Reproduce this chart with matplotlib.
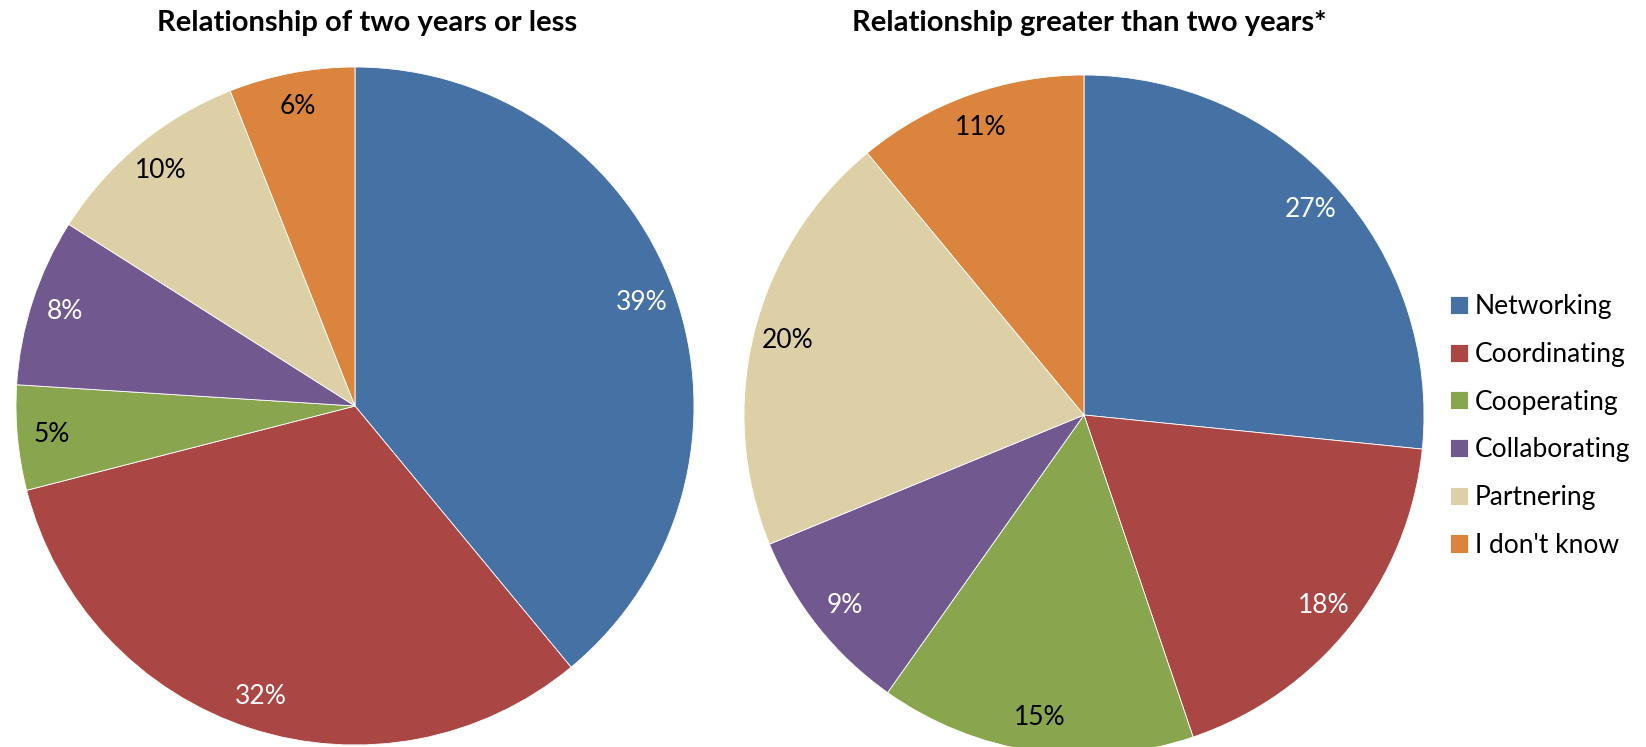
import numpy as np
import matplotlib
matplotlib.use("Agg")
import matplotlib.pyplot as plt

plt.rcParams['font.family'] = ['Lato', 'DejaVu Sans']

categories = ['Networking', 'Coordinating', 'Cooperating', 'Collaborating', 'Partnering', "I don't know"]
short_values = [39, 32, 5, 8, 10, 6]
long_values = [26.6, 18.2, 15.0, 9.0, 20.2, 11.0]
titles = ['Relationship of two years or less', 'Relationship greater than two years*']

colors = ['#4671A5', '#AA4644', '#89A54E', '#71588F', '#DDD0A7', '#DB843D']
text_colors = ['white', 'white', 'black', 'white', 'black', 'black']


def draw_pie(ax, values):
    wedges, _ = ax.pie(values, colors=colors, startangle=90, counterclock=False,
                       radius=1.0, wedgeprops=dict(linewidth=0.6, edgecolor='white'))
    for w, v, tc in zip(wedges, values, text_colors):
        mid = np.deg2rad((w.theta1 + w.theta2) / 2)
        ax.text(0.9 * np.cos(mid), 0.9 * np.sin(mid), f'{v:.0f}%', ha='center', va='center',
                fontsize=19, color=tc)
    ax.set_xlim(-1, 1)
    ax.set_ylim(-1, 1)
    ax.set_aspect('equal')
    ax.axis('off')
    return wedges


fig = plt.figure(figsize=(16.46, 7.47), dpi=100)
W, H = 1646, 747

ax1 = fig.add_axes([(355 - 339) / W, (H - 406 - 339) / H, 678 / W, 678 / H])
ax2 = fig.add_axes([(1084 - 340) / W, (H - 415 - 340) / H, 680 / W, 680 / H])

draw_pie(ax1, short_values)
wedges = draw_pie(ax2, long_values)

fig.text(367 / W, 1 - 23 / H, titles[0], ha='center', va='center', fontsize=21, fontweight='bold')
fig.text(1089 / W, 1 - 23 / H, titles[1], ha='center', va='center', fontsize=21, fontweight='bold')

fig.legend(wedges, categories, loc='center left', bbox_to_anchor=(1450 / W, 1 - 426 / H),
           frameon=False, fontsize=19, handlelength=0.68, handleheight=0.68,
           handletextpad=0.25, labelspacing=0.86, borderpad=0, borderaxespad=0)

fig.savefig('out.png', dpi=100)
